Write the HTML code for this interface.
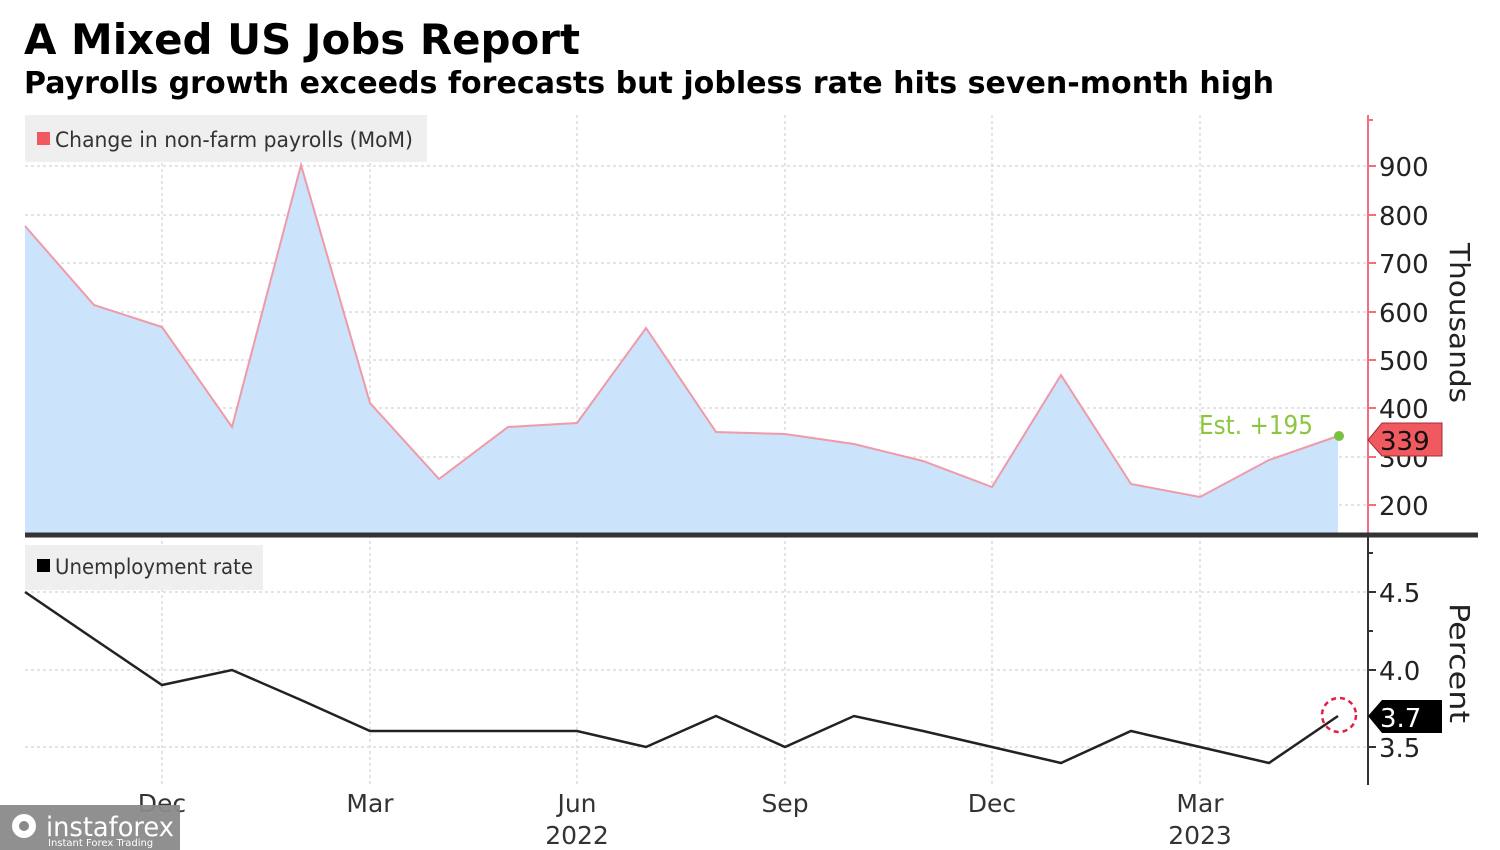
<!DOCTYPE html>
<html><head><meta charset="utf-8"><style>
body{margin:0;background:#fff;}
svg{display:block;font-family:"DejaVu Sans","Liberation Sans",sans-serif;}
</style></head><body>
<svg width="1500" height="850" viewBox="0 0 1500 850" xmlns="http://www.w3.org/2000/svg">
<rect width="1500" height="850" fill="#fff"/>
<text x="24" y="54" font-size="42" font-weight="bold" fill="#000" textLength="556" lengthAdjust="spacingAndGlyphs">A Mixed US Jobs Report</text>
<text x="24" y="93" font-size="30" font-weight="bold" fill="#000" textLength="1250" lengthAdjust="spacingAndGlyphs">Payrolls growth exceeds forecasts but jobless rate hits seven-month high</text>

<g stroke="#dcdcdc" stroke-width="1.5" stroke-dasharray="3,3">
<line x1="25" y1="166" x2="1368" y2="166"/><line x1="25" y1="215" x2="1368" y2="215"/>
<line x1="25" y1="263" x2="1368" y2="263"/><line x1="25" y1="312" x2="1368" y2="312"/>
<line x1="25" y1="360" x2="1368" y2="360"/><line x1="25" y1="408" x2="1368" y2="408"/>
<line x1="25" y1="457" x2="1368" y2="457"/><line x1="25" y1="505" x2="1368" y2="505"/>
<line x1="25" y1="592" x2="1368" y2="592"/><line x1="25" y1="670" x2="1368" y2="670"/>
<line x1="25" y1="747" x2="1368" y2="747"/>
<line x1="162" y1="115" x2="162" y2="785"/><line x1="370" y1="115" x2="370" y2="785"/>
<line x1="577" y1="115" x2="577" y2="785"/><line x1="785" y1="115" x2="785" y2="785"/>
<line x1="992" y1="115" x2="992" y2="785"/><line x1="1200" y1="115" x2="1200" y2="785"/>
</g>
<rect x="25" y="115" width="402" height="47" fill="#efefef"/>
<rect x="37" y="132" width="13" height="13" fill="#f0595f"/>
<text x="55" y="147" font-size="21" fill="#333" textLength="358" lengthAdjust="spacingAndGlyphs">Change in non-farm payrolls (MoM)</text>

<polygon fill="#cce4fb" points="25,533 25,226 94,305 162,327 232,427 301,165 370,403 439,479 508,427 577,423 646,328 716,432 785,434 854,444 923,461 992,487 1061,375 1131,484 1200,497 1269,460 1338,436 1338,533"/>
<polyline fill="none" stroke="#ef9aa8" stroke-width="2" points="25,226 94,305 162,327 232,427 301,165 370,403 439,479 508,427 577,423 646,328 716,432 785,434 854,444 923,461 992,487 1061,375 1131,484 1200,497 1269,460 1338,436"/>
<circle cx="1339" cy="436" r="5" fill="#7ac143"/>
<text x="1199" y="434" font-size="26" fill="#8cc63f" textLength="114" lengthAdjust="spacingAndGlyphs">Est. +195</text>

<line x1="1368" y1="115" x2="1368" y2="535" stroke="#f07080" stroke-width="2"/>
<g stroke="#f07080" stroke-width="2">
<line x1="1368" y1="166" x2="1376" y2="166"/><line x1="1368" y1="215" x2="1376" y2="215"/>
<line x1="1368" y1="263" x2="1376" y2="263"/><line x1="1368" y1="312" x2="1376" y2="312"/>
<line x1="1368" y1="360" x2="1376" y2="360"/><line x1="1368" y1="408" x2="1376" y2="408"/>
<line x1="1368" y1="457" x2="1376" y2="457"/><line x1="1368" y1="505" x2="1376" y2="505"/>
<line x1="1368" y1="120" x2="1373" y2="120"/>
</g>
<g font-size="26" fill="#222">
<text x="1379" y="176">900</text><text x="1379" y="225">800</text><text x="1379" y="273">700</text>
<text x="1379" y="322">600</text><text x="1379" y="370">500</text><text x="1379" y="418">400</text>
<text x="1379" y="467">300</text><text x="1379" y="515">200</text>
</g>
<polygon points="1368,440 1382,423 1442,423 1442,456 1382,456" fill="#f0595f" stroke="#a03030" stroke-width="1"/>
<text x="1380" y="450" font-size="26" fill="#111">339</text>
<text transform="translate(1450,243) rotate(90)" font-size="28" fill="#222" textLength="160" lengthAdjust="spacingAndGlyphs">Thousands</text>

<line x1="25" y1="535" x2="1478" y2="535" stroke="#333" stroke-width="5"/>

<rect x="25" y="545" width="238" height="45" fill="#efefef"/>
<rect x="37" y="559" width="13" height="13" fill="#000"/>
<text x="55" y="574" font-size="21" fill="#333" textLength="198" lengthAdjust="spacingAndGlyphs">Unemployment rate</text>
<polyline fill="none" stroke="#222" stroke-width="2.5" points="25,592 94,639 162,685 232,670 301,700 370,731 439,731 508,731 577,731 646,747 716,716 785,747 854,716 923,731 992,747 1061,763 1131,731 1200,747 1269,763 1338,716"/>
<circle cx="1339" cy="715" r="17" fill="none" stroke="#e02040" stroke-width="2.5" stroke-dasharray="5,4"/>
<line x1="1368" y1="537" x2="1368" y2="785" stroke="#333" stroke-width="2"/>
<g stroke="#333" stroke-width="2">
<line x1="1368" y1="592" x2="1376" y2="592"/><line x1="1368" y1="670" x2="1376" y2="670"/>
<line x1="1368" y1="747" x2="1376" y2="747"/><line x1="1368" y1="631" x2="1373" y2="631"/>
<line x1="1368" y1="553" x2="1373" y2="553"/>
</g>
<g font-size="26" fill="#222">
<text x="1379" y="602">4.5</text><text x="1379" y="680">4.0</text><text x="1379" y="757">3.5</text>
</g>
<polygon points="1368,716 1382,700 1442,700 1442,733 1382,733" fill="#000"/>
<text x="1380" y="727" font-size="26" fill="#fff">3.7</text>
<text transform="translate(1450,603) rotate(90)" font-size="28" fill="#222" textLength="120" lengthAdjust="spacingAndGlyphs">Percent</text>

<g font-size="25" fill="#333" text-anchor="middle">
<text x="162" y="812">Dec</text><text x="370" y="812">Mar</text><text x="577" y="812">Jun</text>
<text x="577" y="844">2022</text><text x="785" y="812">Sep</text><text x="992" y="812">Dec</text>
<text x="1200" y="812">Mar</text><text x="1200" y="844">2023</text>
</g>

<rect x="0" y="805" width="180" height="45" fill="#8a8a8a" opacity="0.95"/>
<circle cx="24" cy="826" r="12" fill="#fff"/>
<circle cx="24" cy="826" r="5" fill="#8a8a8a"/>
<text x="46" y="836" font-size="27" fill="#fff" textLength="128" lengthAdjust="spacingAndGlyphs">instaforex</text>
<text x="48" y="846" font-size="10" fill="#fff">Instant Forex Trading</text>
</svg>
</body></html>
